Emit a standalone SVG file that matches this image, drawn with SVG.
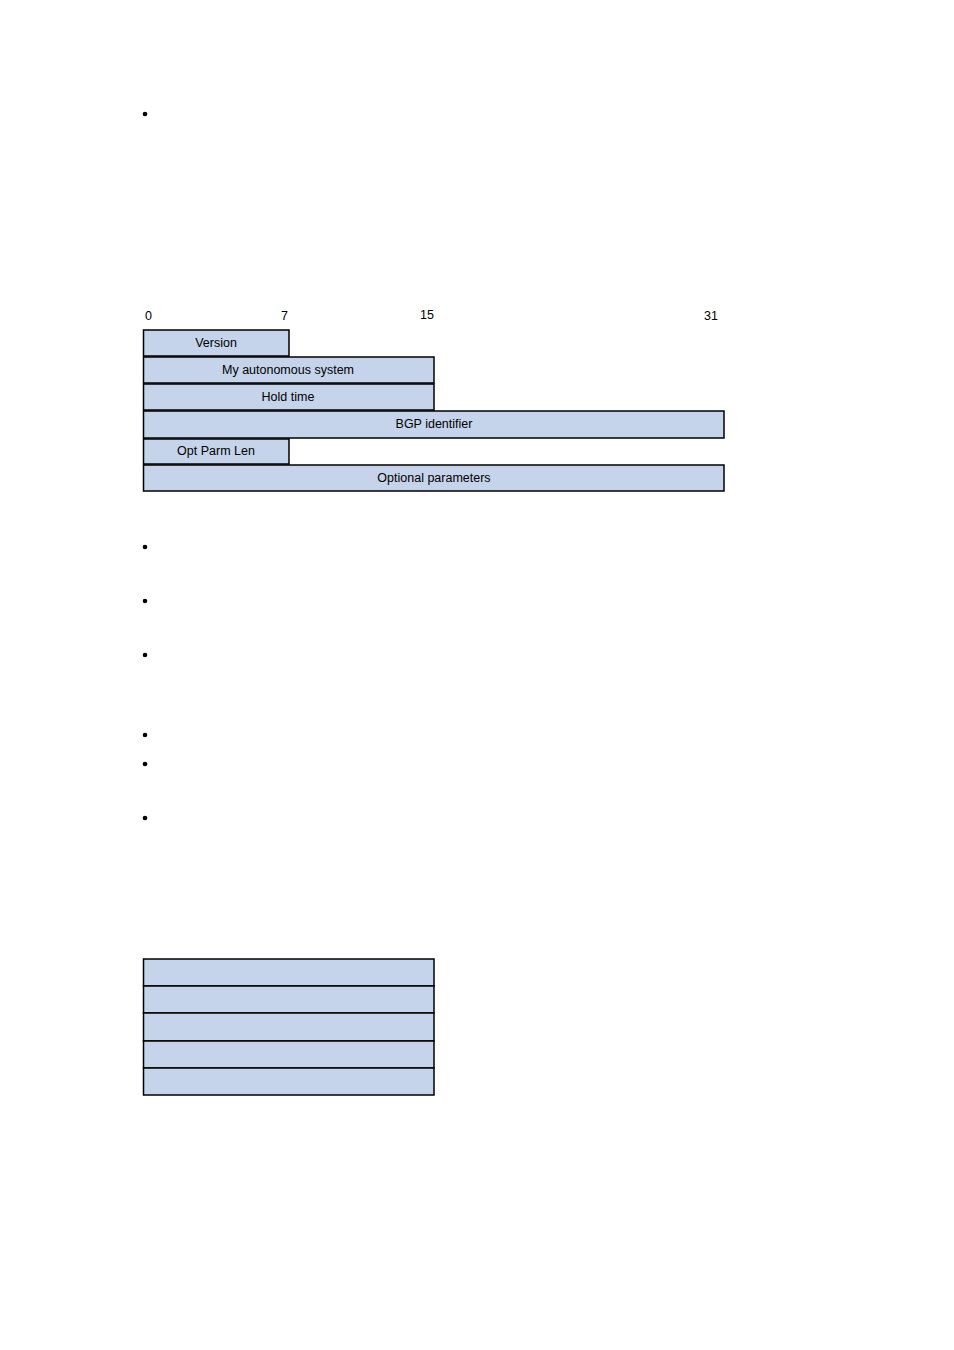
<svg xmlns="http://www.w3.org/2000/svg" width="954" height="1350" viewBox="0 0 954 1350">
<style>
.f{fill:#C5D3EB;stroke:#000;stroke-width:1.5}
text{font-family:"Liberation Sans",Arial,sans-serif;font-size:12.5px;fill:#000}
.c{text-anchor:middle}
</style>
<rect width="954" height="1350" fill="#fff"/>
<g id="bullets" fill="#000">
<circle cx="145" cy="114" r="2.3"/><circle cx="145" cy="547" r="2.3"/><circle cx="145" cy="601" r="2.3"/><circle cx="145" cy="655" r="2.3"/><circle cx="145" cy="735" r="2.3"/><circle cx="145" cy="764" r="2.3"/><circle cx="145" cy="818" r="2.3"/>
</g>
<g id="scale">
<text x="145" y="320">0</text><text x="281" y="320">7</text><text x="420" y="319">15</text><text x="704" y="320">31</text>
</g>
<g id="version"><rect class="f" x="143.5" y="330" width="145.5" height="26"/><text class="c" x="216" y="347">Version</text></g>
<g id="as"><rect class="f" x="143.5" y="357" width="290.5" height="26"/><text class="c" x="288" y="374">My autonomous system</text></g>
<g id="hold"><rect class="f" x="143.5" y="384" width="290.5" height="26"/><text class="c" x="288" y="401">Hold time</text></g>
<g id="bgp"><rect class="f" x="143.5" y="411" width="580.5" height="27"/><text class="c" x="434" y="428">BGP identifier</text></g>
<g id="optlen"><rect class="f" x="143.5" y="439" width="145.5" height="25"/><text class="c" x="216" y="455">Opt Parm Len</text></g>
<g id="opt"><rect class="f" x="143.5" y="465" width="580.5" height="26"/><text class="c" x="434" y="482">Optional parameters</text></g>
<g id="table2">
<rect class="f" x="143.5" y="959" width="290.5" height="27"/>
<rect class="f" x="143.5" y="986" width="290.5" height="27"/>
<rect class="f" x="143.5" y="1013" width="290.5" height="28"/>
<rect class="f" x="143.5" y="1041" width="290.5" height="27"/>
<rect class="f" x="143.5" y="1068" width="290.5" height="27"/>
</g>
<g id="connectors"/>
</svg>
